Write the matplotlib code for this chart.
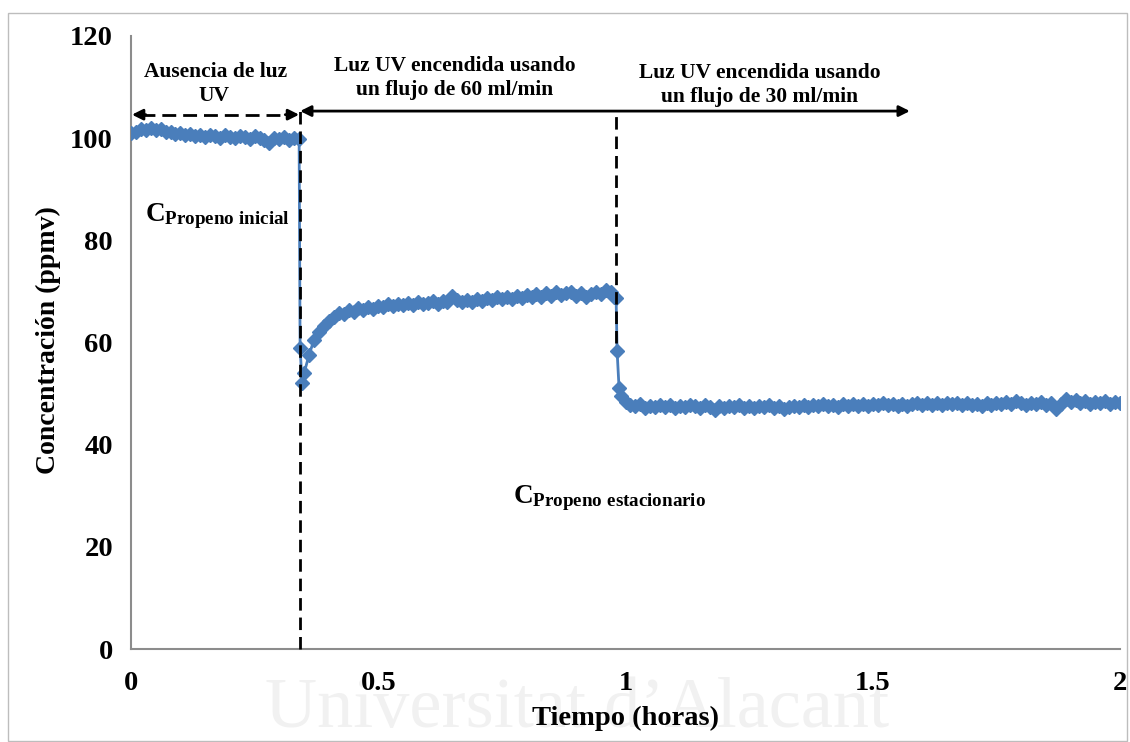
import numpy as np
import matplotlib
matplotlib.use("Agg")
import matplotlib.pyplot as plt
from matplotlib.patches import Rectangle

plt.rcParams['font.family'] = ['Liberation Serif', 'DejaVu Serif']
plt.rcParams['font.weight'] = 'bold'
plt.rcParams['mathtext.fontset'] = 'custom'
plt.rcParams['mathtext.rm'] = 'Liberation Serif:bold'
plt.rcParams['mathtext.bf'] = 'Liberation Serif:bold'
plt.rcParams['mathtext.it'] = 'Liberation Serif:bold'

# ---------------- data ----------------
# phase 1: no UV light, 0 .. 0.34 h every 0.01 h
c_dark = [101.0, 101.3, 101.8, 101.5, 102.0, 101.6, 101.8, 101.2, 101.3, 100.8,
          101.0, 100.6, 100.9, 100.4, 100.7, 100.2, 100.6, 100.5, 100.1, 100.7,
          100.3, 100.0, 100.5, 100.2, 99.8, 100.4, 100.0, 99.6, 99.0, 100.1,
          99.8, 100.3, 99.6, 100.0, 99.8]
# transition after UV switched on
t_drop1 = [0.342, 0.346]
c_drop1 = [58.9, 52.0]
# phase 2: UV on, 60 ml/min, 0.35 .. 0.97 h every 0.01 h
c_uv60 = [54.0, 57.5, 60.5, 62.0, 63.3, 64.3, 65.0, 65.8, 65.5, 66.3,
          66.0, 66.8, 66.4, 67.0, 66.6, 67.2, 67.0, 67.5, 67.1, 67.6,
          67.3, 67.8, 67.4, 67.9, 67.5, 67.7, 68.1, 67.6, 68.2, 68.0,
          69.2, 68.3, 67.9, 68.4, 68.0, 68.6, 68.2, 68.7, 68.3, 68.9,
          68.5, 68.9, 68.6, 69.2, 68.8, 69.3, 68.9, 69.5, 69.0, 69.6,
          69.1, 69.8, 69.3, 69.6, 69.9, 69.2, 69.7, 69.0, 69.5, 69.8,
          69.4, 70.2, 69.8]
# transition after flow change
t_drop2 = [0.976, 0.981, 0.983, 0.987]
c_drop2 = [69.0, 68.7, 58.3, 51.0]
# phase 3: UV on, 30 ml/min, 0.99 .. 2.00 h every 0.01 h
c_uv30 = [49.5, 48.3,
          47.8, 47.5, 47.9, 47.2, 47.6, 47.3, 47.8, 47.4, 47.7, 47.2,
          47.6, 47.3, 47.8, 47.5, 47.2, 47.7, 47.4, 46.8, 47.5, 47.2,
          47.6, 47.3, 47.7, 47.1, 47.5, 47.2, 47.6, 47.3, 47.7, 47.2,
          47.5, 47.0, 47.4, 47.6, 47.3, 47.7, 47.4, 47.8, 47.5, 47.9,
          47.5, 47.8, 47.4, 47.9, 47.6, 48.0, 47.6, 47.9, 47.5, 48.0,
          47.7, 48.1, 47.8, 48.0, 47.6, 47.9, 47.5, 47.9, 48.1, 47.7,
          48.2, 47.8, 48.1, 47.7, 48.2, 47.9, 48.1, 47.7, 48.2, 47.8,
          48.0, 47.6, 48.1, 47.8, 48.2, 47.9, 48.3, 47.9, 48.6, 48.1,
          47.8, 48.2, 47.9, 48.3, 47.8, 48.1, 47.0, 48.0, 49.0, 48.4,
          48.7, 48.2, 48.5, 48.0, 48.4, 48.1, 48.5, 47.9, 48.3, 48.1]

t_dark = np.linspace(0.0, 0.34, len(c_dark))
t_uv60 = np.linspace(0.35, 0.97, len(c_uv60))
t_uv30 = np.linspace(0.99, 2.00, len(c_uv30))

time = np.concatenate([t_dark, t_drop1, t_uv60, t_drop2, t_uv30])
conc = np.concatenate([c_dark, c_drop1, c_uv60, c_drop2, c_uv30])

x_ticks = [0, 0.5, 1, 1.5, 2]
x_ticklabels = ['0', '0.5', '1', '1.5', '2']
y_ticks = [0, 20, 40, 60, 80, 100, 120]

# event times (h)
t_uv_on = 0.342
t_flow_change = 0.981
t_arrow_end = 1.575

# ---------------- figure ----------------
fig = plt.figure(figsize=(11.3, 7.42), dpi=100, facecolor='white')

# faint repository watermark (behind everything)
fig.text(0.511, 0.0, "Universitat d\u2019Alacant", ha='center', va='bottom',
         fontsize=52, fontweight='normal', color='#f1f1f1', zorder=-5)

ax = fig.add_axes([0.1159, 0.1253, 0.8753, 0.8262])
ax.patch.set_alpha(0)

blue = '#4A7EBB'
ax.plot(time, conc, color=blue, lw=2, marker='D', ms=7.3,
        mfc=blue, mec=blue, zorder=3)

ax.set_xlim(0, 2)
ax.set_ylim(0, 120)
ax.set_xticks(x_ticks)
ax.set_xticklabels(x_ticklabels)
ax.set_yticks(y_ticks)
ax.tick_params(axis='both', length=0, labelsize=20.5)
ax.tick_params(axis='x', pad=16)
ax.tick_params(axis='y', pad=13)
for s in ['top', 'right']:
    ax.spines[s].set_visible(False)
for s in ['left', 'bottom']:
    ax.spines[s].set_color('#8c8c8c')
    ax.spines[s].set_linewidth(1.5)

ax.set_ylabel('Concentración (ppmv)', fontsize=20, fontweight='bold', va='center')
ax.yaxis.set_label_coords(-0.083, 0.504)
ax.set_xlabel('Tiempo (horas)', fontsize=20.5, fontweight='bold', va='center')
ax.xaxis.set_label_coords(0.4995, -0.1126)

# vertical dashed event lines
ax.plot([t_uv_on, t_uv_on], [0, 105.3], color='black', lw=2,
        ls=(0, (4.5, 2.5)), zorder=5, clip_on=False)
ax.plot([t_flow_change, t_flow_change], [60, 105.3], color='black', lw=2,
        ls=(0, (4.5, 2.5)), zorder=5, clip_on=False)

# dashed double arrow (dark phase)
ya = 104.6
ax.plot([0.02, t_uv_on - 0.02], [ya, ya], color='black', lw=2,
        ls=(0, (5, 2.5)), zorder=5, clip_on=False)
hp = dict(arrowstyle='-|>', color='black', lw=2, mutation_scale=16,
          shrinkA=0, shrinkB=0)
ax.annotate('', xy=(0.002, ya), xytext=(0.03, ya), arrowprops=hp,
            zorder=6, annotation_clip=False)
ax.annotate('', xy=(t_uv_on - 0.002, ya), xytext=(t_uv_on - 0.03, ya),
            arrowprops=hp, zorder=6, annotation_clip=False)

# solid double arrow (UV phases)
yb = 105.3
ax.annotate('', xy=(t_arrow_end, yb), xytext=(t_uv_on, yb),
            arrowprops=dict(arrowstyle='<|-|>', color='black', lw=2,
                            mutation_scale=16, shrinkA=0, shrinkB=0),
            zorder=6, annotation_clip=False)

fs = 15.5
ax.text(0.171, 111.9, 'Ausencia de luz', ha='center', va='baseline',
        fontsize=fs, fontweight='bold')
ax.text(0.167, 107.2, 'UV', ha='center', va='baseline',
        fontsize=fs, fontweight='bold')
ax.text(0.655, 113.1, 'Luz UV encendida usando', ha='center', va='baseline',
        fontsize=fs, fontweight='bold')
ax.text(0.655, 108.4, 'un flujo de 60 ml/min', ha='center', va='baseline',
        fontsize=fs, fontweight='bold')
ax.text(1.271, 111.7, 'Luz UV encendida usando', ha='center', va='baseline',
        fontsize=fs, fontweight='bold')
ax.text(1.271, 107.0, 'un flujo de 30 ml/min', ha='center', va='baseline',
        fontsize=fs, fontweight='bold')

ax.text(0.028, 83.8, r'$\mathrm{C}_{\mathrm{Propeno\ inicial}}$', ha='left',
        va='baseline', fontsize=19.5)
ax.text(0.772, 28.6, r'$\mathrm{C}_{\mathrm{Propeno\ estacionario}}$', ha='left',
        va='baseline', fontsize=19.5)

# figure border
fig.patches.append(Rectangle((0.007, 0.002), 0.99, 0.981, transform=fig.transFigure,
                             fill=False, edgecolor='#bdbdbd', lw=1))

fig.savefig('out.png', dpi=100, facecolor='white')
